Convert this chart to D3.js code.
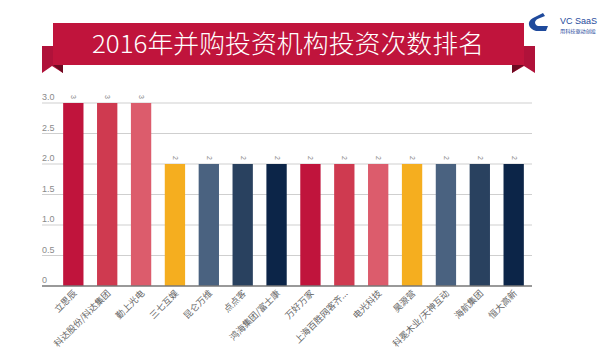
<!DOCTYPE html>
<html><head><meta charset="utf-8">
<script src="https://cdn.jsdelivr.net/npm/d3@7"></script>
<style>body{margin:0;background:#fff;}svg{display:block;font-family:"Noto Sans CJK SC","Noto Sans",sans-serif;}</style>
</head><body>
<svg id="c" width="600" height="357"></svg>
<script>
const categories = ["立思辰","科达股份/科达集团","勤上光电","三七互娱","昆仑万维","点点客","鸿海集团/富士康","万好万家","上海百胜网客齐...","电光科技","昊源营","科冕木业/天神互动","海航集团","恒大高新"];
const values = [3,3,3,2,2,2,2,2,2,2,2,2,2,2];
const colors = ["#c0143c","#cf3a50","#dc5c6c","#f5ae1f","#4a6280","#29415f","#0c2548"];
const yTicks = [0,0.5,1.0,1.5,2.0,2.5,3.0];
const yTickLabels = ["0","0.5","1.0","1.5","2.0","2.5","3.0"];
const title = "2016年并购投资机构投资次数排名";

const svg = d3.select("#c");

// Banner
const g0 = svg.append("g");
g0.append("polygon").attr("points","42,46 63,46 63,73 52,66 42,73").attr("fill","#b0123a");
g0.append("polygon").attr("points","535,46 512,46 512,73 524,66 535,73").attr("fill","#b0123a");
g0.append("polygon").attr("points","53,65 63,73 63,65").attr("fill","#6e0a22");
g0.append("polygon").attr("points","524,65 512,73 512,65").attr("fill","#6e0a22");
g0.append("rect").attr("x",53).attr("y",23).attr("width",471).attr("height",42).attr("fill","#c0143c");
g0.append("text").attr("x",288).attr("y",53).attr("text-anchor","middle").attr("fill","#fff")
  .attr("font-size",25).attr("font-weight",300).attr("textLength",392).attr("lengthAdjust","spacingAndGlyphs").text(title);

// Logo
const lg = svg.append("g");
lg.append("path").attr("d","M543,13 L533,18 Q528,21 529,25 Q530,29 536,31 L546,31 L548,26 L538,26 Q535,25 535,22 Q536,19 540,18 L545,16 Z").attr("fill","#1f4a9c");
lg.append("text").attr("x",560).attr("y",24).attr("font-size",9.5).attr("fill","#1f4a9c").attr("font-family","Liberation Sans, sans-serif")
  .attr("textLength",37).attr("lengthAdjust","spacingAndGlyphs").text("VC  SaaS");
lg.append("text").attr("x",560).attr("y",33).attr("font-size",5).attr("fill","#1f4a9c")
  .attr("textLength",36).attr("lengthAdjust","spacingAndGlyphs").text("用科技驱动创投");

// Chart
const x = d3.scaleBand().domain(categories).range([53,534]).paddingInner(0.4).paddingOuter(0.3);
const y = d3.scaleLinear().domain([0,3]).range([286,103]);

const grid = svg.append("g");
grid.selectAll("line").data(yTicks.slice(1)).join("line")
  .attr("x1",42).attr("x2",532).attr("y1",d=>y(d)).attr("y2",d=>y(d))
  .attr("stroke","#cfcfcf").attr("stroke-width",1);
grid.selectAll("text").data(yTicks).join("text")
  .attr("x",42).attr("y",d=>y(d)-3).attr("font-size",9).attr("fill","#8a8a8a")
  .attr("font-family","Liberation Sans, sans-serif")
  .text((d,i)=>yTickLabels[i]);

svg.append("g").selectAll("rect").data(values).join("rect")
  .attr("x",(d,i)=>x(categories[i])).attr("width",x.bandwidth())
  .attr("y",d=>y(d)).attr("height",d=>y(0)-y(d))
  .attr("fill",(d,i)=>colors[i%colors.length]);

svg.append("line").attr("x1",42).attr("x2",532).attr("y1",y(0)).attr("y2",y(0)).attr("stroke","#777").attr("stroke-width",1.5);

svg.append("g").selectAll("text").data(values).join("text")
  .attr("transform",(d,i)=>`translate(${x(categories[i])+x.bandwidth()/2-2},${y(d)-6}) rotate(90)`)
  .attr("text-anchor","middle").attr("font-size",7).attr("fill","#888")
  .attr("font-family","Liberation Sans, sans-serif")
  .text(d=>d);

svg.append("g").selectAll("text").data(categories).join("text")
  .attr("transform",d=>`translate(${x(d)+x.bandwidth()/2+4},${y(0)+8}) rotate(-45)`)
  .attr("text-anchor","end").attr("font-size",9).attr("fill","#666")
  .text(d=>d);
</script>
</body></html>
